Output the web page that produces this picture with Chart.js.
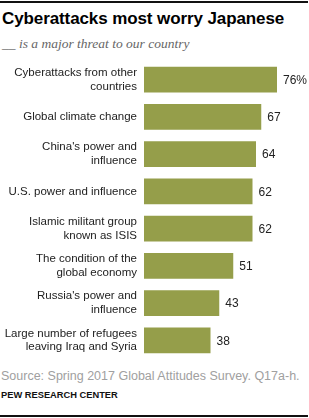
<!DOCTYPE html>
<html>
<head>
<meta charset="utf-8">
<script src="https://cdn.jsdelivr.net/npm/chart.js@4"></script>
<style>
  body { margin: 0; background: #fff; width: 309px; height: 418px; position: relative; overflow: hidden; font-family: "Liberation Sans", Arial, sans-serif; }
  .rule { position: absolute; left: 0; width: 308px; height: 2px; background: #111; }
  #title { position: absolute; left: 2px; top: 9px; font-size: 17px; font-weight: bold; color: #000; white-space: nowrap; letter-spacing: -0.1px; }
  #sub { position: absolute; left: 2px; top: 36px; font-family: "Liberation Serif", serif; font-style: italic; font-size: 13.5px; color: #666; white-space: nowrap; }
  #wrap { position: absolute; left: 0; top: 61px; width: 309px; height: 298px; }
  #source { position: absolute; left: 1px; top: 369px; font-size: 12.5px; color: #a0a0a0; white-space: nowrap; }
  #pew { position: absolute; left: 1px; top: 390px; font-size: 9.3px; font-weight: bold; color: #111; white-space: nowrap; }
</style>
</head>
<body>
<div class="rule" style="top:1px"></div>
<div id="title">Cyberattacks most worry Japanese</div>
<div id="sub">__ is a major threat to our country</div>
<div id="wrap"><canvas id="chart"></canvas></div>
<div id="source">Source: Spring 2017 Global Attitudes Survey. Q17a-h.</div>
<div id="pew">PEW RESEARCH CENTER</div>
<div class="rule" style="top:415px;height:1.5px"></div>
<script>
// data
const categories = [
  ['Cyberattacks from other', 'countries'],
  'Global climate change',
  ["China's power and", 'influence'],
  'U.S. power and influence',
  ['Islamic militant group', 'known as ISIS'],
  ['The condition of the', 'global economy'],
  ["Russia's power and", 'influence'],
  ['Large number of refugees', 'leaving Iraq and Syria']
];
const values = [76, 67, 64, 62, 62, 51, 43, 38];
const valueLabels = ['76%', '67', '64', '62', '62', '51', '43', '38'];

// label nilai di ujung bar
const barValues = {
  id: 'barValues',
  afterDatasetsDraw(chart) {
    const ctx = chart.ctx;
    const meta = chart.getDatasetMeta(0);
    ctx.save();
    ctx.font = '12px "Liberation Sans", Arial, sans-serif';
    ctx.fillStyle = '#222';
    ctx.textBaseline = 'middle';
    meta.data.forEach((bar, i) => {
      ctx.fillText(valueLabels[i], bar.x + 6, bar.y + 1);
    });
    ctx.restore();
  }
};

new Chart(document.getElementById('chart'), {
  type: 'bar',
  data: {
    labels: categories,
    datasets: [{
      data: values,
      backgroundColor: '#959e4a',
      barPercentage: 0.686,
      categoryPercentage: 1
    }]
  },
  options: {
    indexAxis: 'y',
    responsive: true,
    maintainAspectRatio: false,
    animation: false,
    layout: { padding: { left: 0, right: 7.5, top: 0, bottom: 0 } },
    plugins: { legend: { display: false }, tooltip: { enabled: false } },
    scales: {
      x: {
        min: 0,
        max: 90,
        display: false
      },
      y: {
        grid: { display: false, drawTicks: false },
        border: { display: false },
        ticks: {
          padding: 7,
          color: '#222',
          font: { family: '"Liberation Sans", Arial, sans-serif', size: 11.5, lineHeight: 1.2 }
        },
        afterFit(scale) {
          // lebar sumbu tetap, tanpa padding label atas/bawah
          scale.width = 144;
          scale.paddingTop = 0;
          scale.paddingBottom = 0;
        }
      }
    }
  },
  plugins: [barValues]
});
</script>
</body>
</html>
